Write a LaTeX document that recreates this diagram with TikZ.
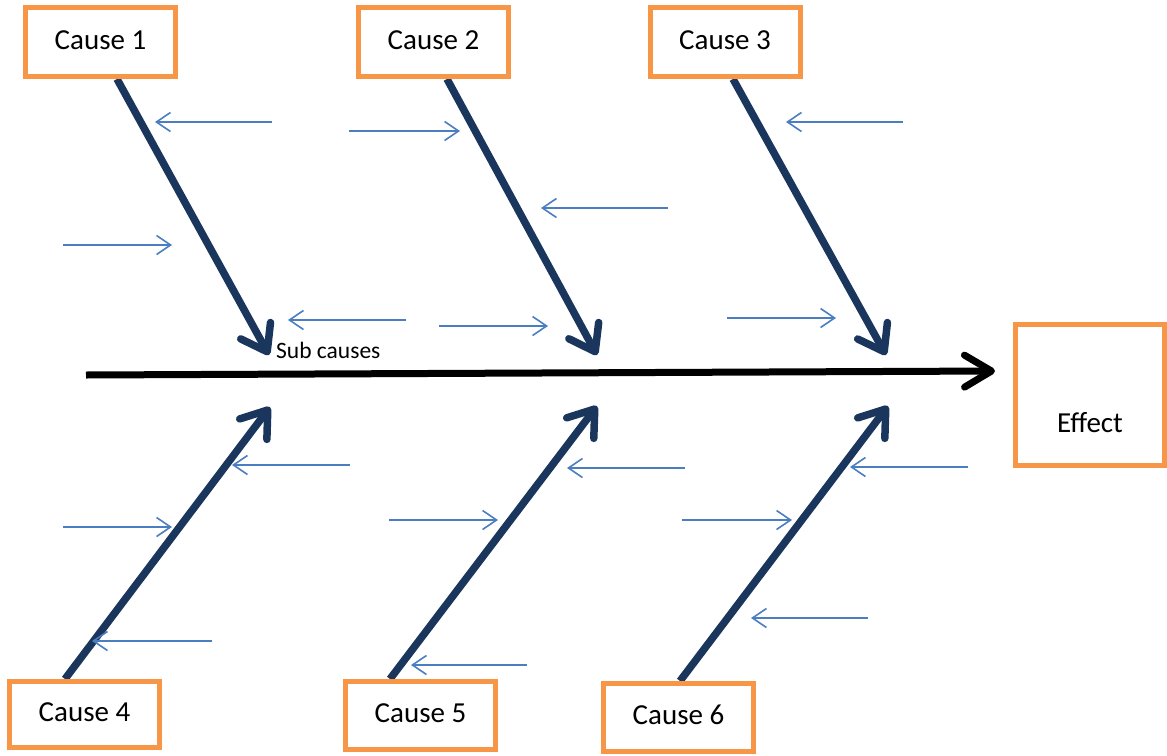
\documentclass[tikz,border=0pt]{standalone}
\usepackage{fontspec}
\setmainfont{Carlito}
\usetikzlibrary{arrows.meta}
\definecolor{boxorange}{HTML}{F79646}
\definecolor{bonenavy}{HTML}{1B365D}
\definecolor{subblue}{HTML}{4A7EC0}
\tikzset{
  causebox/.style={draw=boxorange, line width=5pt, fill=white,
    minimum width=150pt, minimum height=69pt, inner sep=0pt,
    font=\fontsize{29}{34}\selectfont, text height=19pt, text depth=5pt},
  effectbox/.style={draw=boxorange, line width=5pt,
    minimum width=149pt, minimum height=141pt, inner sep=0pt},
  lbl/.style={font=\fontsize{29}{34}\selectfont, inner sep=0pt},
  spine/.style={line width=7pt, black,
    -{Straight Barb[length=27pt, width=32pt, round]}},
  bone/.style={line width=7.5pt, bonenavy,
    -{Straight Barb[length=24pt, width=34pt, round]}},
  subarrow/.style={line width=1.6pt, subblue,
    -{Straight Barb[length=14pt, width=19pt]}}
}
\begin{document}
\begin{tikzpicture}[x=1pt, y=-1pt]
\useasboundingbox (0,0) rectangle (1167,755);

% main spine towards the effect
\coordinate (tail) at (86,375);
\coordinate (head) at (995,371);
\draw[spine] (tail) -- (head);

% bone start and end points
\coordinate (s1) at (117,79);   \coordinate (t1) at (269,355);
\coordinate (s2) at (447,79);   \coordinate (t2) at (597,355);
\coordinate (s3) at (733,79);   \coordinate (t3) at (886,355);
\coordinate (s4) at (65,679);   \coordinate (t4) at (270,407);
\coordinate (s5) at (390,679);  \coordinate (t5) at (597,406);
\coordinate (s6) at (680,681);  \coordinate (t6) at (888,406);

\foreach \i in {1,...,6} \draw[bone] (s\i) -- (t\i);

% sub-cause arrows: start x, end x, y
\foreach \xa/\xb/\yy [count=\k] in {
  272/155/122, 63/172/245, 349/460/131, 668/541/208,
  406/288/320, 439/548/326, 903/786/122, 727/836/318,
  350/232/465, 63/172/527, 212/92/641, 389/498/520,
  685/567/468, 527/411/665, 682/792/520, 968/850/467,
  868/751/618} {
  \coordinate (sa\k) at (\xa,\yy);
  \coordinate (sb\k) at (\xb,\yy);
  \draw[subarrow] (sa\k) -- (sb\k);
}

% cause boxes
\node[causebox] (c1) at (100.5,42) {Cause 1};
\node[causebox] (c2) at (433.5,42) {Cause 2};
\node[causebox] (c3) at (725,42) {Cause 3};
\node[causebox, minimum height=66pt] (c4) at (84.5,714.5) {Cause 4};
\node[causebox, minimum height=68pt] (c5) at (420.5,715.5) {Cause 5};
\node[causebox, minimum height=68pt] (c6) at (678.5,717.5) {Cause 6};

% effect box
\node[effectbox] (effect) at (1090,395) {};
\node[lbl] (effectlbl) at (1090,423) {Effect};

% caption of the sub-cause arrows
\node[font=\fontsize{23.5}{28}\selectfont, inner sep=0pt, anchor=base west]
  (subcap) at (276,358) {Sub causes};
\end{tikzpicture}
\end{document}
